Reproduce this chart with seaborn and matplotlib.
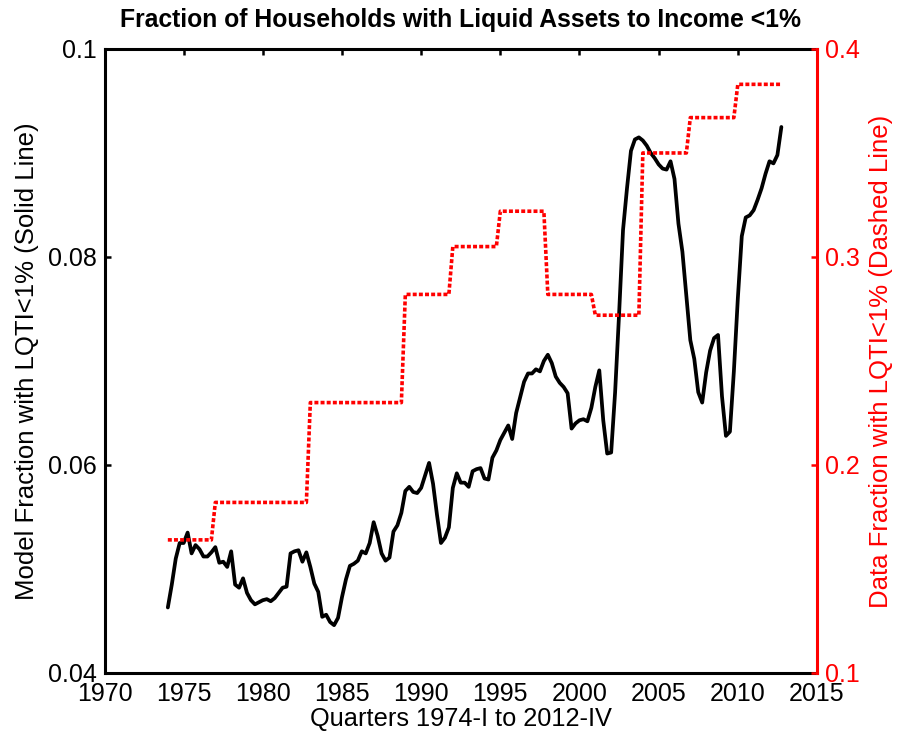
import numpy as np
import pandas as pd
import seaborn as sns
import matplotlib.pyplot as plt
from matplotlib.ticker import FormatStrFormatter

# quarterly model series, 1974-I .. 2012-IV
quarters = 1974 + np.arange(156) / 4
model_frac = [
    0.0463, 0.0485, 0.0510, 0.0525, 0.0525, 0.0535, 0.0515, 0.0523, 0.0519, 0.0512,
    0.0512, 0.0516, 0.0521, 0.0506, 0.0507, 0.0502, 0.0517, 0.0485, 0.0482, 0.0491,
    0.0477, 0.0470, 0.0466, 0.0468, 0.0470, 0.0471, 0.0469, 0.0472, 0.0477, 0.0482,
    0.0483, 0.0515, 0.0517, 0.0518, 0.0507, 0.0516, 0.0502, 0.0486, 0.0478, 0.0454,
    0.0456, 0.0449, 0.0446, 0.0453, 0.0473, 0.0490, 0.0503, 0.0505, 0.0508, 0.0517,
    0.0515, 0.0525, 0.0545, 0.0532, 0.0515, 0.0508, 0.0511, 0.0536, 0.0542, 0.0554,
    0.0575, 0.0579, 0.0574, 0.0573, 0.0578, 0.0590, 0.0602, 0.0582, 0.0552, 0.0525,
    0.0530, 0.0540, 0.0578, 0.0592, 0.0583, 0.0583, 0.0579, 0.0594, 0.0596, 0.0597,
    0.0587, 0.0586, 0.0607, 0.0614, 0.0624, 0.0631, 0.0638, 0.0625, 0.0650, 0.0665,
    0.0680, 0.0688, 0.0688, 0.0692, 0.0690, 0.0700, 0.0706, 0.0698, 0.0685, 0.0679,
    0.0675, 0.0669, 0.0635, 0.0640, 0.0643, 0.0644, 0.0642, 0.0655, 0.0675, 0.0691,
    0.0643, 0.0611, 0.0612, 0.0670, 0.0745, 0.0826, 0.0866, 0.0902, 0.0913, 0.0915,
    0.0912, 0.0907, 0.0900, 0.0895, 0.0889, 0.0885, 0.0884, 0.0892, 0.0875, 0.0832,
    0.0805, 0.0763, 0.0720, 0.0702, 0.0670, 0.0660, 0.0689, 0.0710, 0.0722, 0.0725,
    0.0666, 0.0628, 0.0632, 0.0690, 0.0760, 0.0820, 0.0838, 0.0840, 0.0845, 0.0855,
    0.0866, 0.0880, 0.0892, 0.0890, 0.0898, 0.0925,
]

# survey data (held constant between survey years)
survey_years = [1974, 1977, 1983, 1989, 1992, 1995, 1998, 2001, 2004, 2007, 2010]
data_frac = [0.164, 0.182, 0.230, 0.282, 0.305, 0.322, 0.282, 0.272, 0.350, 0.367, 0.383]

sns.set_style('white')
plt.rcParams['font.family'] = ['Liberation Sans', 'DejaVu Sans']
plt.rcParams['text.color'] = 'black'
plt.rcParams['axes.labelcolor'] = 'black'

step_idx = np.searchsorted(survey_years, quarters, side='right') - 1
df = pd.DataFrame({'quarter': quarters,
                   'model': model_frac,
                   'data': np.array(data_frac)[step_idx]})

fig = plt.figure(figsize=(8.97, 7.42), dpi=100)
ax = fig.add_axes([0.1165, 0.093, 0.7943, 0.841])
sns.lineplot(data=df, x='quarter', y='model', ax=ax, color='black', lw=2.7)

ax2 = ax.twinx()
sns.lineplot(data=df, x='quarter', y='data', ax=ax2, color='red', lw=2.6,
             linestyle=(0, (1.1, 0.6)))

ax.set_xlim(1970, 2015)
ax.set_ylim(0.04, 0.1)
ax2.set_ylim(0.1, 0.4)
ax.set_xticks(range(1970, 2016, 5))
ax.set_yticks([0.04, 0.06, 0.08, 0.1])
ax2.set_yticks([0.1, 0.2, 0.3, 0.4])
ax.yaxis.set_major_formatter(FormatStrFormatter('%g'))
ax2.yaxis.set_major_formatter(FormatStrFormatter('%g'))

for s in ax.spines.values():
    s.set_linewidth(2.2)
    s.set_color('black')
ax.spines['right'].set_visible(False)
for name in ['left', 'top', 'bottom']:
    ax2.spines[name].set_visible(False)
ax2.spines['right'].set_color('red')
ax2.spines['right'].set_linewidth(2.2)

ax.tick_params(axis='both', direction='in', length=4, width=1.8, labelsize=18,
               top=True, right=False, colors='black')
ax.tick_params(axis='x', pad=6.5)
ax.tick_params(axis='y', pad=5.5)
ax2.tick_params(axis='y', direction='in', length=4, width=1.8, labelsize=18,
                pad=5.5, colors='red')

ax.set_title('Fraction of Households with Liquid Assets to Income <1%',
             fontsize=17.8, fontweight='bold', pad=15.6)
ax.set_xlabel('Quarters 1974-I to 2012-IV', fontsize=18.3, labelpad=1)
ax.set_ylabel('Model Fraction with LQTI<1% (Solid Line)', fontsize=18.5, labelpad=6.5)
ax2.set_ylabel('Data Fraction with LQTI<1% (Dashed Line)', fontsize=18.5,
               color='red', labelpad=6.5)

fig.savefig('out.png', dpi=100)
